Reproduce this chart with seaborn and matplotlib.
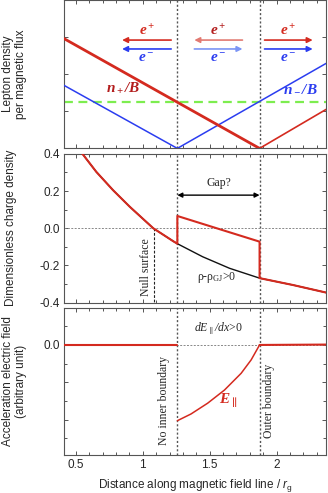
import numpy as np
import matplotlib
matplotlib.use("Agg")
import matplotlib.pyplot as plt
from matplotlib.ticker import MultipleLocator, FixedLocator, NullFormatter
import seaborn as sns

# --- data ---
x_inner, x_outer, x_null = 1.258, 1.873, 1.082

# lepton densities per magnetic flux (V shapes)
nplus_left_x = [0.41, 1.873]
nplus_left_y = [2.96, 0.0]
nplus_right_x = [1.873, 2.37]
nplus_right_y = [0.0, 1.05]
nminus_x = [0.41, 1.258, 2.37]
nminus_y = [1.70, 0.0, 2.29]
green_level = 1.25

# Goldreich-Julian charge density and actual charge density
rho_x = [0.50, 0.547, 0.652, 0.778, 0.903, 1.078, 1.228, 1.258, 1.447, 1.648, 1.873, 2.123, 2.373]
rho_gj = [0.45, 0.401, 0.303, 0.204, 0.115, 0.0, -0.07, -0.083, -0.153, -0.215, -0.268, -0.305, -0.346]
rho_x_red = [0.50, 0.547, 0.652, 0.778, 0.903, 1.078, 1.228, 1.258, 1.258, 1.873, 1.873, 2.123, 2.373]
rho_red = [0.45, 0.401, 0.303, 0.204, 0.115, 0.0, -0.07, -0.083, 0.066, -0.072, -0.268, -0.305, -0.346]

# accelerating electric field
e_left_x = [0.41, 1.258]
e_left_y = [0.0, 0.0]
e_gap_x = [1.258, 1.36, 1.485, 1.61, 1.735, 1.81, 1.873]
e_gap_y = [-2.03, -1.85, -1.56, -1.21, -0.76, -0.40, 0.0]
e_right_x = [1.873, 2.37]
e_right_y = [0.0, 0.01]

sns.set_style("ticks")
plt.rcParams['font.family'] = ['Liberation Sans', 'DejaVu Sans']
plt.rcParams['mathtext.fontset'] = 'custom'
plt.rcParams['mathtext.it'] = 'Liberation Sans:italic'
plt.rcParams['mathtext.rm'] = 'Liberation Sans'
plt.rcParams['mathtext.bf'] = 'Liberation Serif:italic:bold'
plt.rcParams['mathtext.sf'] = 'Liberation Serif:italic'
plt.rcParams['mathtext.tt'] = 'Liberation Serif'

RED = '#d42a1f'
DRED = '#b31d1d'
BLUE = '#2b3df0'
GREEN = '#7ded4f'
GRID = '#555555'
SERIF = 'Liberation Serif'

fig = plt.figure(figsize=(3.28, 4.93), dpi=100)
left, width = 0.195, 0.799
ax1 = fig.add_axes([left, 0.699, width, 0.301])
ax2 = fig.add_axes([left, 0.386, width, 0.302])
ax3 = fig.add_axes([left, 0.077, width, 0.299])


def style(ax):
    ax.set_xlim(0.41, 2.37)
    ax.xaxis.set_major_locator(MultipleLocator(0.5))
    ax.xaxis.set_minor_locator(MultipleLocator(0.1))
    ax.tick_params(which='both', direction='in', top=True, right=True,
                   color=GRID, width=0.7, labelsize=8.5, pad=3)
    ax.tick_params(which='major', length=3)
    ax.tick_params(which='minor', length=2)
    for s in ax.spines.values():
        s.set_color(GRID)
        s.set_linewidth(0.8)
    for xv in (x_inner, x_outer):
        ax.axvline(xv, color=GRID, lw=1.0, ls=(0, (1.5, 1.5)), zorder=1)


# ---- panel 1 ----
style(ax1)
ax1.set_ylim(0, 4)
ax1.yaxis.set_major_locator(FixedLocator([1, 2, 3]))
ax1.yaxis.set_major_formatter(NullFormatter())
ax1.xaxis.set_major_formatter(NullFormatter())
ax1.axhline(green_level, color=GREEN, lw=1.6, ls=(0, (4, 2.5)), zorder=2)
sns.lineplot(x=nminus_x, y=nminus_y, ax=ax1, color=BLUE, lw=1.1, sort=False, estimator=None, zorder=3)
sns.lineplot(x=nplus_left_x, y=nplus_left_y, ax=ax1, color=RED, lw=2.0, sort=False, estimator=None, zorder=4)
sns.lineplot(x=nplus_right_x, y=nplus_right_y, ax=ax1, color=RED, lw=1.2, sort=False, estimator=None, zorder=4)
ax1.text(0.85, 1.62, r'$\mathbf{n_+/B}$', color=DRED, fontsize=11, ha='center', va='center')
ax1.text(2.18, 1.62, r'$\mathbf{n_-/B}$', color=BLUE, fontsize=11, ha='center', va='center')

arrows = [
    (1.212, 0.845, RED, 2.92, BLUE, 1.212, 0.845, 2.68),
    (1.745, 1.385, '#e27a72', 2.92, '#7c95f5', 1.385, 1.745, 2.68),
    (1.91, 2.27, RED, 2.92, BLUE, 1.91, 2.27, 2.68),
]
for (p0, p1, pc, py, mc, m0, m1, my) in arrows:
    ax1.annotate('', xy=(p1, py), xytext=(p0, py),
                 arrowprops=dict(arrowstyle='-|>', color=pc, lw=1.2, mutation_scale=8, shrinkA=0, shrinkB=0))
    ax1.annotate('', xy=(m1, my), xytext=(m0, my),
                 arrowprops=dict(arrowstyle='-|>', color=mc, lw=1.2, mutation_scale=8, shrinkA=0, shrinkB=0))
    xc = (p0 + p1) / 2
    ax1.text(xc, 3.17, r'$\mathbf{e^+}$', color=pc if pc != '#e27a72' else DRED, fontsize=11, ha='center', va='center')
    ax1.text(xc, 2.43, r'$\mathbf{e^-}$', color=mc if mc != '#7c95f5' else BLUE, fontsize=11, ha='center', va='center')
ax1.set_ylabel('Lepton density\nper magnetic flux', fontsize=8.5, linespacing=1.1)
ax1.yaxis.set_label_coords(-0.14, 0.5)

# ---- panel 2 ----
style(ax2)
ax2.set_ylim(-0.4, 0.4)
ax2.set_yticks([-0.4, -0.2, 0.0, 0.2, 0.4], ['-0.4', '-0.2', '0.0', '0.2', '0.4'])
ax2.yaxis.set_minor_locator(MultipleLocator(0.1))
ax2.xaxis.set_major_formatter(NullFormatter())
ax2.axhline(0, color='#888888', lw=0.7, ls=(0, (2, 1.5)), zorder=1)
ax2.plot([x_null, x_null], [0, -0.4], color='#222222', lw=0.8, ls=(0, (2.5, 1.5)), zorder=2)
sns.lineplot(x=rho_x, y=rho_gj, ax=ax2, color='#111111', lw=1.0, sort=False, estimator=None, zorder=3)
sns.lineplot(x=rho_x_red, y=rho_red, ax=ax2, color=RED, lw=1.5, sort=False, estimator=None, zorder=4)
ax2.annotate('', xy=(x_outer, 0.178), xytext=(x_inner, 0.178),
             arrowprops=dict(arrowstyle='<|-|>', color='black', lw=1.0, mutation_scale=7, shrinkA=0, shrinkB=0))
ax2.text(1.565, 0.245, 'Gap?', fontsize=8.5, family=SERIF, ha='center', va='center')
ax2.text(1.025, -0.21, 'Null surface', fontsize=8.5, family=SERIF, rotation=90, ha='center', va='center')
ax2.text(1.555, -0.262, r'$\mathtt{\rho}$-$\mathtt{\rho_{GJ}}$>0', fontsize=8.5, family=SERIF, ha='center', va='center')
ax2.set_ylabel('Dimensionless charge density', fontsize=8.5)
ax2.yaxis.set_label_coords(-0.18, 0.5)

# ---- panel 3 ----
style(ax3)
ax3.set_ylim(-2.95, 1.0)
ax3.set_yticks([-2, -1, 0], ['', '', '0.0'])
ax3.yaxis.set_minor_locator(MultipleLocator(0.5))
ax3.axhline(0, color='#888888', lw=0.7, ls=(0, (2, 1.5)), zorder=1)
sns.lineplot(x=e_left_x, y=e_left_y, ax=ax3, color=RED, lw=1.5, sort=False, estimator=None, zorder=4)
sns.lineplot(x=e_gap_x, y=e_gap_y, ax=ax3, color=RED, lw=1.1, sort=False, estimator=None, zorder=4)
sns.lineplot(x=e_right_x, y=e_right_y, ax=ax3, color=RED, lw=1.5, sort=False, estimator=None, zorder=4)
ax3.text(1.565, 0.43, r'$\mathsf{dE_\parallel/dx}$>0', fontsize=8.5, family=SERIF, ha='center', va='center')
ax3.text(1.64, -1.5, r'$\mathbf{E_\parallel}$', color=RED, fontsize=11, ha='center', va='center')
ax3.text(1.16, -1.5, 'No inner boundary', fontsize=8.5, family=SERIF, rotation=90, ha='center', va='center')
ax3.text(1.945, -1.5, 'Outer boundary', fontsize=8.5, family=SERIF, rotation=90, ha='center', va='center')
ax3.set_ylabel('Acceleration electric field\n(arbitrary unit)', fontsize=8.5, linespacing=1.1)
ax3.yaxis.set_label_coords(-0.14, 0.5)
ax3.set_xticks([0.5, 1.0, 1.5, 2.0], ['0.5', '1', '1.5', '2'])
ax3.set_xlabel(r'Distance along magnetic field line / $r_\mathrm{g}$', fontsize=8.5, labelpad=4)

fig.savefig('out.png', dpi=100)
